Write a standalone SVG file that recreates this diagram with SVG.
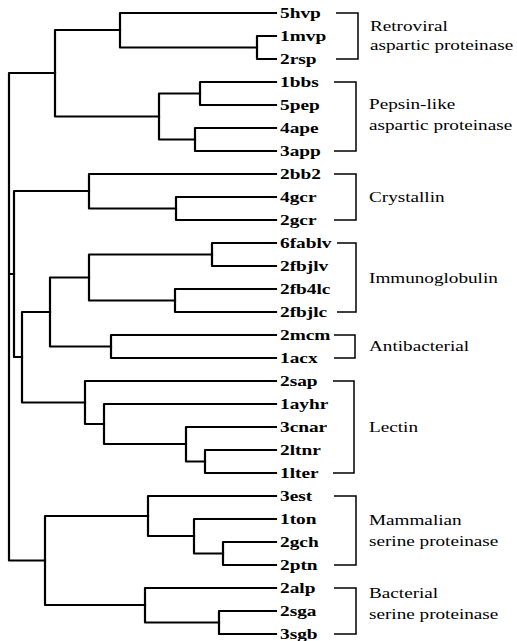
<svg xmlns="http://www.w3.org/2000/svg" width="517" height="641" viewBox="0 0 517 641">
<style>
.tree{fill:none;stroke:#000;stroke-width:2.2;stroke-linejoin:round;stroke-linecap:square}
.br{fill:none;stroke:#000;stroke-width:1.5}
.leaf{font-family:"Liberation Serif","Times New Roman",serif;font-weight:bold;font-size:14px;fill:#000}
.grp{font-family:"Liberation Serif","Times New Roman",serif;font-size:14px;fill:#000}
</style>
<rect width="517" height="641" fill="#fff"/>
<g id="connectors" class="tree">
<path d="M276 36H257V59H276"/>
<path d="M276 13H120V47.5H257"/>
<path d="M276 82H200V105H276"/>
<path d="M276 128H195V151H276"/>
<path d="M200 93.5H159V139.5H195"/>
<path d="M120 30H55V116.5H159"/>
<path d="M276 197H176V220H276"/>
<path d="M276 174H89V208.5H176"/>
<path d="M276 243H212V266H276"/>
<path d="M276 289H175V312H276"/>
<path d="M212 254.5H89V300.5H175"/>
<path d="M276 335H111V358H276"/>
<path d="M89 277.5H50V346.5H111"/>
<path d="M276 450H205V473H276"/>
<path d="M276 427H186V461.5H205"/>
<path d="M276 404H104V444H186"/>
<path d="M276 381H85V424H104"/>
<path d="M50 312H22V402.5H85"/>
<path d="M89 191H14V357H22"/>
<path d="M276 542H223V565H276"/>
<path d="M276 519H194V553.5H223"/>
<path d="M276 496H148V536H194"/>
<path d="M276 611H219V634H276"/>
<path d="M276 588H145V622.5H219"/>
<path d="M148 516H45V605H145"/>
<path d="M55 73H9V560.5H45M9 274H14"/>
</g>
<g id="leaves" class="leaf">
<g id="n5hvp"><text transform="translate(280,18) scale(1.38,1)">5hvp</text></g>
<g id="n1mvp"><text transform="translate(280,41) scale(1.38,1)">1mvp</text></g>
<g id="n2rsp"><text transform="translate(280,64) scale(1.38,1)">2rsp</text></g>
<g id="n1bbs"><text transform="translate(280,87) scale(1.38,1)">1bbs</text></g>
<g id="n5pep"><text transform="translate(280,110) scale(1.38,1)">5pep</text></g>
<g id="n4ape"><text transform="translate(280,133) scale(1.38,1)">4ape</text></g>
<g id="n3app"><text transform="translate(280,156) scale(1.38,1)">3app</text></g>
<g id="n2bb2"><text transform="translate(280,179) scale(1.38,1)">2bb2</text></g>
<g id="n4gcr"><text transform="translate(280,202) scale(1.38,1)">4gcr</text></g>
<g id="n2gcr"><text transform="translate(280,225) scale(1.38,1)">2gcr</text></g>
<g id="n6fablv"><text transform="translate(280,248) scale(1.38,1)">6fablv</text></g>
<g id="n2fbjlv"><text transform="translate(280,271) scale(1.38,1)">2fbjlv</text></g>
<g id="n2fb4lc"><text transform="translate(280,294) scale(1.38,1)">2fb4lc</text></g>
<g id="n2fbjlc"><text transform="translate(280,317) scale(1.38,1)">2fbjlc</text></g>
<g id="n2mcm"><text transform="translate(280,340) scale(1.38,1)">2mcm</text></g>
<g id="n1acx"><text transform="translate(280,363) scale(1.38,1)">1acx</text></g>
<g id="n2sap"><text transform="translate(280,386) scale(1.38,1)">2sap</text></g>
<g id="n1ayhr"><text transform="translate(280,409) scale(1.38,1)">1ayhr</text></g>
<g id="n3cnar"><text transform="translate(280,432) scale(1.38,1)">3cnar</text></g>
<g id="n2ltnr"><text transform="translate(280,455) scale(1.38,1)">2ltnr</text></g>
<g id="n1lter"><text transform="translate(280,478) scale(1.38,1)">1lter</text></g>
<g id="n3est"><text transform="translate(280,501) scale(1.38,1)">3est</text></g>
<g id="n1ton"><text transform="translate(280,524) scale(1.38,1)">1ton</text></g>
<g id="n2gch"><text transform="translate(280,547) scale(1.38,1)">2gch</text></g>
<g id="n2ptn"><text transform="translate(280,570) scale(1.38,1)">2ptn</text></g>
<g id="n2alp"><text transform="translate(280,593) scale(1.38,1)">2alp</text></g>
<g id="n2sga"><text transform="translate(280,616) scale(1.38,1)">2sga</text></g>
<g id="n3sgb"><text transform="translate(280,639) scale(1.38,1)">3sgb</text></g>
</g>
<g id="groups">
<g id="g-retroviral"><path class="br" d="M336 13H358V59H336"/><text class="grp" transform="translate(370,31) scale(1.37,1)">Retroviral</text><text class="grp" transform="translate(370,50) scale(1.37,1)">aspartic proteinase</text></g>
<g id="g-pepsin"><path class="br" d="M334 82H356V151H334"/><text class="grp" transform="translate(369,109) scale(1.37,1)">Pepsin-like</text><text class="grp" transform="translate(369,130) scale(1.37,1)">aspartic proteinase</text></g>
<g id="g-crystallin"><path class="br" d="M334 174H356V220H334"/><text class="grp" transform="translate(369,202) scale(1.37,1)">Crystallin</text></g>
<g id="g-immuno"><path class="br" d="M337 243H356V312H337"/><text class="grp" transform="translate(369,283) scale(1.37,1)">Immunoglobulin</text></g>
<g id="g-antibacterial"><path class="br" d="M334 335H355V358H334"/><text class="grp" transform="translate(369,351) scale(1.37,1)">Antibacterial</text></g>
<g id="g-lectin"><path class="br" d="M333 381H354V473H333"/><text class="grp" transform="translate(369,432) scale(1.37,1)">Lectin</text></g>
<g id="g-mammalian"><path class="br" d="M334 496H356V565H334"/><text class="grp" transform="translate(369,525) scale(1.37,1)">Mammalian</text><text class="grp" transform="translate(369,546) scale(1.37,1)">serine proteinase</text></g>
<g id="g-bacterial"><path class="br" d="M334 588H356V634H334"/><text class="grp" transform="translate(369,598) scale(1.37,1)">Bacterial</text><text class="grp" transform="translate(369,619) scale(1.37,1)">serine proteinase</text></g>
</g>
</svg>
